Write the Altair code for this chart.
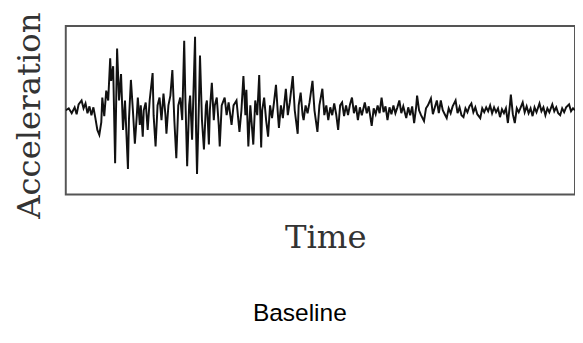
import altair as alt
import pandas as pd

# Time positions (arbitrary units) and acceleration readings (arbitrary units, + = up)
time = [67, 70, 73, 76, 78, 80, 83, 85, 87, 89, 91, 93, 95, 97, 99, 101, 103, 104, 106, 108,
        110, 112, 113, 115, 117, 119, 121, 123, 125, 127, 130, 131, 133, 135, 137, 139, 140, 142,
        143, 145, 146, 148, 150, 152, 155, 156, 158, 160, 162, 164, 166, 168, 169, 171, 173, 175,
        177, 179, 181, 183, 185, 187, 188, 190, 192, 193, 195, 198, 199, 200, 202, 203, 205, 207,
        209, 210, 212, 213, 215, 217, 218, 220, 222, 223, 225, 228, 230, 232, 235, 237, 240, 243,
        245, 247, 249, 250, 252, 254, 257, 259, 261, 263, 265, 266, 268, 270, 272, 274, 276, 278,
        280, 282, 283, 285, 287, 290, 292, 294, 297, 299, 302, 303, 305, 307, 308, 310, 312, 314,
        317, 319, 322, 324, 327, 329, 331, 333, 335, 337, 339, 341, 343, 345, 347, 349, 351, 353,
        355, 357, 359, 361, 363, 365, 367, 370, 372, 374, 377, 379, 381, 383, 385, 387, 389, 391,
        393, 395, 397, 399, 401, 403, 405, 407, 409, 412, 414, 416, 418, 420, 422, 423, 425, 427,
        430, 432, 434, 437, 439, 441, 443, 445, 447, 449, 451, 453, 455, 457, 459, 462, 464, 466,
        468, 470, 472, 474, 476, 478, 480, 482, 484, 487, 489, 491, 493, 495, 497, 499, 501, 503,
        505, 507, 509, 511, 513, 515, 517, 518, 520, 522, 524, 526, 528, 530, 532, 534, 536, 538,
        540, 542, 544, 547, 549, 551, 553, 555, 557, 560, 562, 564, 566, 568, 570, 572, 574, 577,
        579, 581, 583]
accel = [0, 2, -3, 3, -4, 6, 10, 2, 7, -3, 4, -5, 3, -8, -20, -25, -12, 13, -6, 20,
         10, 53, 30, 45, -54, 63, 10, 37, -20, 10, -60, -10, 31, 0, -34, -5, 13, -15,
         5, -27, 0, 8, -20, 10, 38, -5, -37, 5, 13, -10, 17, -5, -24, 5, 15, 41,
         -10, -49, 5, 13, -10, 71, 20, -57, 5, 15, -30, 75, -20, -65, 10, 56, -10, -40,
         5, 10, -35, 0, 28, -10, 5, 13, -15, -37, 5, 13, -5, 8, -15, 5, 10, -22,
         0, 35, -5, 21, -37, 5, -35, 10, -5, 36, -38, 0, 13, -10, -27, 5, -8, 8,
         26, -5, -18, 5, -8, 22, -5, 8, 35, 0, -24, 5, 18, -5, -10, 5, -3, 8,
         30, 0, -22, 5, 22, -5, 5, -10, 3, -5, 7, -4, -20, 5, 8, -6, 5, -5,
         6, 13, -3, 5, -10, 3, -5, 8, -3, 4, -16, 2, -4, 5, -3, 13, -2, 4,
         -10, 3, -4, 5, -3, 3, 10, -3, 4, -8, 3, -5, 4, -13, 3, 15, 0, -5,
         -11, 2, 5, 12, -4, 3, 10, -3, 10, 0, -4, -8, 2, -3, 4, 10, -3, 3,
         -5, -7, 2, -2, 4, 7, -2, 3, -4, -8, 2, -2, 3, -1, 5, -3, 3, -2,
         2, -7, 1, -3, 2, -13, 5, 16, -4, -13, 2, -2, 3, 8, -2, 4, -3, 2,
         -6, 3, -2, 7, -1, 3, -5, 2, -2, 6, -1, 3, -3, -5, 2, -2, 3, 6,
         -1, 2, 0]

df = pd.DataFrame({"Time": time, "Acceleration": accel})

serif = "DejaVu Serif"
plot_w = 520

chart = (
    alt.Chart(df)
    .mark_line(color="#111111", strokeWidth=2, clip=True)
    .encode(
        x=alt.X("Time:Q", scale=alt.Scale(domain=[67, 583], nice=False, zero=False),
                axis=alt.Axis(title="Time", labels=False, ticks=False, domain=False, grid=False,
                              titleFont=serif, titleFontSize=33, titleFontWeight="normal",
                              titleColor="#333333", titlePadding=28, titleX=plot_w / 2 + 5)),
        y=alt.Y("Acceleration:Q", scale=alt.Scale(domain=[-86, 86], nice=False),
                axis=alt.Axis(title="Acceleration", labels=False, ticks=False, domain=False,
                              grid=False, titleFont=serif, titleFontSize=33,
                              titleFontWeight="normal", titleColor="#333333", titlePadding=20,
                              titleY=91)),
        order="Time:Q",
    )
    .properties(
        width=plot_w,
        height=172,
        title=alt.TitleParams("Baseline", orient="bottom", font="Liberation Sans",
                              fontSize=25, fontWeight="normal", color="#000000", offset=48,
                              dx=-21),
        padding={"left": 5, "top": 0, "right": 0, "bottom": 5},
        background="white",
    )
    .configure_view(stroke="#555555", strokeWidth=2)
)

chart.save("out.html", embed_options={"renderer": "svg", "actions": False})
